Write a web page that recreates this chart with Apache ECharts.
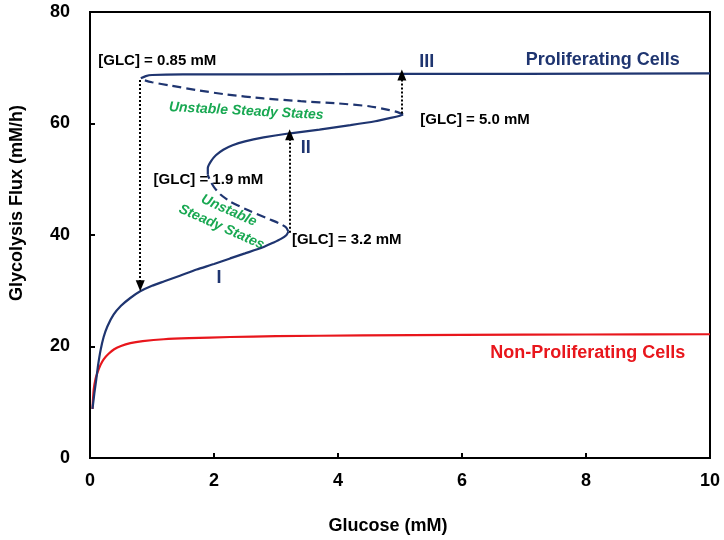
<!DOCTYPE html>
<html>
<head>
<meta charset="utf-8">
<script src="https://cdn.jsdelivr.net/npm/echarts@6/dist/echarts.min.js"></script>
<style>html,body{margin:0;padding:0;background:#fff}#c{width:724px;height:540px}</style>
</head>
<body>
<div id="c"></div>
<script>
// ---- data ----
var xTicks = [0, 2, 4, 6, 8, 10];
var yTicks = [0, 20, 40, 60, 80];

// Proliferating cells: branch I (stable, solid)
var prolifBranchI = [[0.04,8.8],[0.07,11.6],[0.1,14.0],[0.13,16.6],[0.17,19.3],[0.22,21.7],[0.28,23.6],[0.38,25.7],[0.5,27.3],[0.65,28.7],[0.81,29.9],[1.0,30.9],[1.2,31.7],[1.45,32.7],[1.72,33.8],[2.0,34.8],[2.26,35.8],[2.5,36.7],[2.79,37.8],[2.95,38.6],[3.08,39.3],[3.17,40.0],[3.2,40.6]];
// unstable (dashed) between 3.2 mM and 1.9 mM
var prolifUnstable1 = [[3.2,40.6],[3.16,41.4],[3.05,42.1],[2.9,42.8],[2.58,44.3],[2.26,46.0],[2.1,47.3],[2.0,48.6],[1.94,49.7],[1.9,50.8]];
// branch II (stable, solid)
var prolifBranchII = [[1.9,50.8],[1.9,52.0],[1.95,53.2],[2.03,54.3],[2.15,55.3],[2.3,56.1],[2.5,56.8],[2.8,57.5],[3.2,58.2],[3.7,58.9],[4.2,59.7],[4.6,60.4],[4.85,61.0],[5.0,61.4],[5.05,61.6]];
// unstable (dashed) between 5.0 mM and 0.85 mM
var prolifUnstable2 = [[5.05,61.6],[4.97,62.0],[4.83,62.4],[4.5,63.1],[4.0,63.6],[3.4,64.0],[2.8,64.5],[2.2,65.2],[1.72,66.0],[1.3,66.8],[1.0,67.4],[0.87,67.8],[0.82,68.1]];
// branch III (stable, solid)
var prolifBranchIII = [[0.82,68.1],[0.9,68.5],[1.0,68.7],[1.5,68.8],[3.0,68.8],[5.0,68.9],[7.0,68.9],[10.0,69.0]];
// Non-proliferating cells
var nonProlif = [[0.04,8.8],[0.06,12.3],[0.09,14.2],[0.12,15.3],[0.17,16.7],[0.22,17.7],[0.3,18.7],[0.39,19.5],[0.5,20.1],[0.65,20.6],[0.85,20.95],[1.19,21.3],[1.6,21.5],[2.26,21.7],[3.0,21.85],[4.4,22.0],[6.0,22.1],[8.0,22.15],[10.0,22.2]];
// jump arrows [from, to]
var jumps = [[[0.81,67.8],[0.81,30.9]],[[3.22,40.4],[3.22,58.0]],[[5.03,61.8],[5.03,68.7]]];
// annotation texts and anchors
var annoTexts = ['[GLC] = 0.85 mM','III','Proliferating Cells','Unstable Steady States','II','[GLC] = 5.0 mM','[GLC] = 1.9 mM','Unstable\nSteady States','[GLC] = 3.2 mM','I','Non-Proliferating Cells'];
var annoAnchors = [[1.085,71.2],[5.43,71.1],[8.27,71.3],[2.52,62.2],[3.48,55.6],[6.21,60.7],[1.91,49.9],[2.18,42.9],[4.14,39.2],[2.08,32.3],[8.03,18.9]];

// ---- styles ----
var FONT = "'Liberation Sans', Arial, sans-serif";
var NAVY = '#1F3570';
var RED = '#E8161C';
var GREEN = '#19A852';
var annoStyles = [
  {color:'#000', fontSize:15},
  {color:NAVY, fontSize:18},
  {color:NAVY, fontSize:18},
  {color:GREEN, fontSize:14, fontStyle:'italic', rotate:-3},
  {color:NAVY, fontSize:18},
  {color:'#000', fontSize:15},
  {color:'#000', fontSize:15},
  {color:GREEN, fontSize:14, fontStyle:'italic', rotate:-24, lineHeight:18},
  {color:'#000', fontSize:15},
  {color:NAVY, fontSize:18},
  {color:RED, fontSize:18}
];

var annoData = annoTexts.map(function (t, i) {
  var s = annoStyles[i];
  return {
    value: annoAnchors[i],
    label: {
      show: true, position: 'inside', formatter: t,
      color: s.color, fontSize: s.fontSize, fontWeight: 'bold',
      fontStyle: s.fontStyle || 'normal', fontFamily: FONT,
      rotate: s.rotate || 0, lineHeight: s.lineHeight || s.fontSize + 2,
      align: 'center', verticalAlign: 'middle', opacity: 1
    }
  };
});

function curve(data, dashed, color) {
  return {
    type: 'line', data: data, showSymbol: false, symbol: 'none', smooth: 0.2,
    lineStyle: {color: color, width: 2.2, type: dashed ? [9, 5] : 'solid'},
    silent: true, animation: false, z: 3
  };
}

var chart = echarts.init(document.getElementById('c'));
chart.setOption({
  animation: false,
  backgroundColor: '#fff',
  grid: {left: 86, right: 14, top: 12, bottom: 81, show: true, borderColor: '#000', borderWidth: 2, backgroundColor: 'transparent'},
  xAxis: {
    type: 'value', min: xTicks[0], max: xTicks[xTicks.length - 1], interval: 2,
    name: 'Glucose (mM)', nameLocation: 'middle', nameGap: 59,
    nameTextStyle: {fontSize: 18, fontWeight: 'bold', color: '#000', fontFamily: FONT, padding: [0, 24, 0, 0]},
    axisLine: {lineStyle: {color: '#000', width: 2}},
    axisTick: {inside: true, length: 5, lineStyle: {color: '#000', width: 2}},
    axisLabel: {fontSize: 18, fontWeight: 'bold', color: '#000', fontFamily: FONT, margin: 14},
    splitLine: {show: false}
  },
  yAxis: {
    type: 'value', min: yTicks[0], max: yTicks[yTicks.length - 1], interval: 20,
    name: 'Glycolysis Flux (mM/h)', nameLocation: 'middle', nameGap: 64,
    nameTextStyle: {fontSize: 18, fontWeight: 'bold', color: '#000', fontFamily: FONT, padding: [0, 0, 0, 64]},
    axisLine: {lineStyle: {color: '#000', width: 2}},
    axisTick: {inside: true, length: 5, lineStyle: {color: '#000', width: 2}},
    axisLabel: {fontSize: 18, fontWeight: 'bold', color: '#000', fontFamily: FONT, margin: 20},
    splitLine: {show: false}
  },
  series: [
    curve(nonProlif, false, RED),
    curve(prolifBranchI, false, NAVY),
    curve(prolifUnstable1, true, NAVY),
    curve(prolifBranchII, false, NAVY),
    curve(prolifUnstable2, true, NAVY),
    curve(prolifBranchIII, false, NAVY),
    {
      type: 'scatter', data: [], silent: true, animation: false,
      markLine: {
        silent: true, animation: false,
        symbol: ['none', 'triangle'], symbolSize: [9, 11],
        label: {show: false},
        lineStyle: {color: '#000', width: 2, type: [2, 2], opacity: 1},
        itemStyle: {opacity: 1},
        emphasis: {disabled: true},
        data: jumps.map(function (j) { return [{coord: j[0]}, {coord: j[1]}]; })
      }
    },
    {
      type: 'scatter', data: annoData, symbolSize: 0, silent: true, animation: false, z: 2,
      itemStyle: {opacity: 1}
    }
  ]
});
</script>
</body>
</html>
